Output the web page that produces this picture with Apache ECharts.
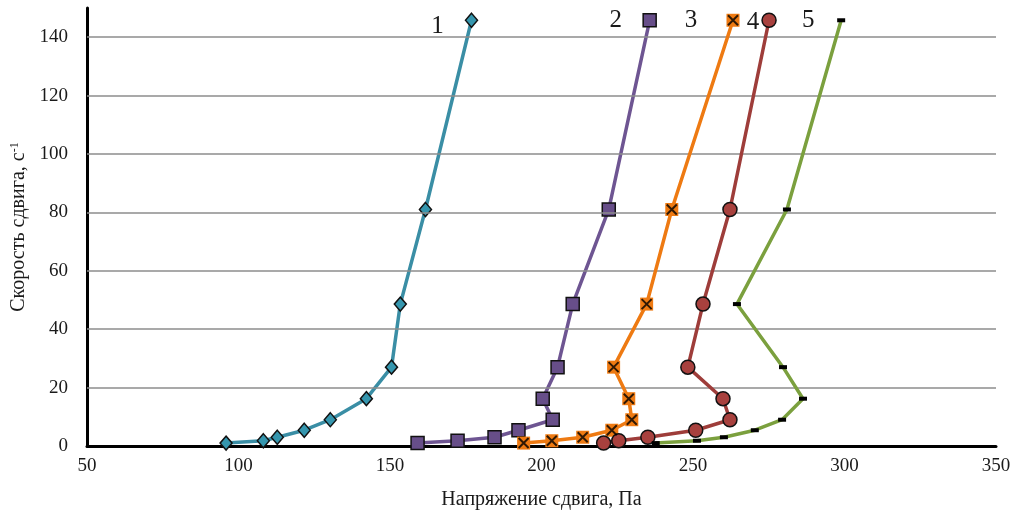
<!DOCTYPE html>
<html>
<head>
<meta charset="utf-8">
<script src="https://cdn.jsdelivr.net/npm/echarts@6/dist/echarts.min.js"></script>
<style>html,body{margin:0;padding:0;background:#fff;}#c{width:1028px;height:516px;}</style>
</head>
<body>
<div id="c"></div>
<script>
// Shear rate values (y), common to all curves
const shearRate = [1, 1.8, 3, 5.4, 9, 16.2, 27, 48.6, 81, 145.8];
// Shear stress (x) for each curve
const stress1 = [95.9, 108.2, 112.8, 121.7, 130.3, 142.2, 150.5, 153.4, 161.7, 176.9];
const stress2 = [159.1, 172.3, 184.5, 192.4, 203.7, 200.4, 205.3, 210.3, 222.2, 235.7];
const stress3 = [194.1, 203.4, 213.6, 223.2, 229.8, 228.8, 223.8, 234.7, 243.0, 263.2];
const stress4 = [220.5, 225.5, 235.1, 250.9, 262.2, 259.9, 248.3, 253.3, 262.2, 275.1];
const stress5 = [237.7, 251.3, 260.2, 270.4, 279.4, 286.3, 279.7, 264.5, 281.0, 298.9];
const curveNames = ['1', '2', '3', '4', '5'];
const yGridValues = [20, 40, 60, 80, 100, 120, 140];
const xTicks = [50, 100, 150, 200, 250, 300, 350];

const FONT = 'Liberation Serif';
const TXT = '#1a1a1a';

function pts(xs, labelCfg, name) {
  return xs.map((x, i) => {
    if (i === xs.length - 1) {
      return {
        value: [x, shearRate[i]],
        label: Object.assign({
          show: true, formatter: name, position: 'inside',
          fontFamily: FONT, fontSize: 25, color: TXT
        }, labelCfg)
      };
    }
    return [x, shearRate[i]];
  });
}

const styles = [
  {line: '#3A8EA5', fill: '#3596AE', symbol: 'diamond', size: [12, 14], border: '#111', bw: 1.5, off: [-34, 6]},
  {line: '#6E5592', fill: '#674E89', symbol: 'rect', size: 13, border: '#111', bw: 1.5, off: [-34, 0]},
  {line: '#EE7A12', fill: '#EE7A12', symbol: 'rect', size: 13, border: '#EE7A12', bw: 0, off: [-42, 0]},
  {line: '#9E3D3A', fill: '#A8413E', symbol: 'circle', size: 14, border: '#111', bw: 1.5, off: [-16, 2]},
  {line: '#7BA03E', fill: '#000', symbol: 'rect', size: [8, 4], border: '#000', bw: 0, off: [-33, 0]}
];
const allStress = [stress1, stress2, stress3, stress4, stress5];

const series = allStress.map((xs, k) => {
  const s = styles[k];
  return {
    type: 'line',
    data: pts(xs, {offset: s.off}, curveNames[k]),
    symbol: s.symbol,
    symbolSize: s.size,
    showAllSymbol: true,
    lineStyle: {color: s.line, width: 3.5},
    itemStyle: {color: s.fill, borderColor: s.border, borderWidth: s.bw},
    z: 3 + k,
    animation: false
  };
});
// black X markers over the orange squares of curve 3
series.push({
  type: 'scatter',
  data: stress3.map((x, i) => [x, shearRate[i]]),
  symbol: 'path://M0,0L10,10M10,0L0,10',
  symbolSize: 10,
  itemStyle: {color: 'none', borderColor: '#000', borderWidth: 2},
  z: 20,
  animation: false
});
// horizontal grid lines
series.push({
  type: 'line',
  data: [],
  markLine: {
    silent: true,
    symbol: 'none',
    label: {show: false},
    lineStyle: {color: '#8c8c8c', width: 1.5, type: 'solid'},
    data: yGridValues.map(v => ({yAxis: v})),
    animation: false
  },
  z: 1
});

const chart = echarts.init(document.getElementById('c'), null, {renderer: 'canvas'});
chart.setOption({
  animation: false,
  backgroundColor: '#fff',
  grid: {left: 87, right: 32, top: 8, bottom: 70, containLabel: false},
  xAxis: {
    type: 'value', min: xTicks[0], max: xTicks[xTicks.length - 1], interval: 50,
    name: 'Напряжение сдвига, Па', nameLocation: 'middle', nameGap: 44,
    nameTextStyle: {fontFamily: FONT, fontSize: 20, color: TXT},
    axisLine: {show: true, onZero: false, lineStyle: {color: '#000', width: 3}},
    axisTick: {show: false},
    splitLine: {show: false},
    axisLabel: {fontFamily: FONT, fontSize: 19, color: TXT, margin: 11}
  },
  yAxis: {
    type: 'value', min: 0, max: 150, interval: 20,
    name: '{a|Скорость сдвига, с}{b|-1}', nameLocation: 'middle', nameGap: 52, nameRotate: 90,
    nameTextStyle: {
      rich: {
        a: {fontFamily: FONT, fontSize: 20, color: TXT},
        b: {fontFamily: FONT, fontSize: 12, color: TXT, verticalAlign: 'top', padding: [0, 0, 7, 0]}
      }
    },
    axisLine: {show: true, onZero: false, lineStyle: {color: '#000', width: 3}},
    axisTick: {show: false},
    splitLine: {show: false},
    axisLabel: {
      fontFamily: FONT, fontSize: 19, color: TXT, margin: 19,
      formatter: v => (v % 20 === 0 ? String(v) : '')
    }
  },
  series: series
});
</script>
</body>
</html>
